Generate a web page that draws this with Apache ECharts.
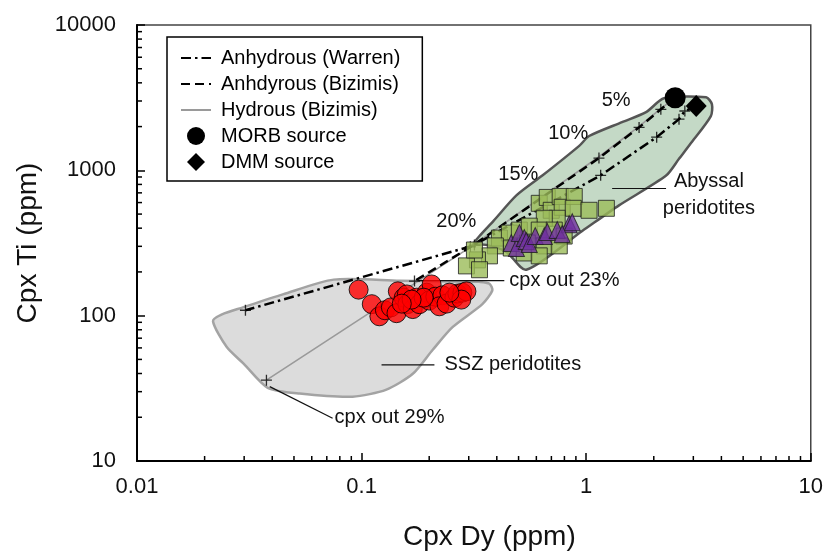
<!DOCTYPE html>
<html><head><meta charset="utf-8">
<script src="https://cdn.jsdelivr.net/npm/echarts@6/dist/echarts.min.js"></script>
<style>html,body{margin:0;padding:0;background:#fff}#c{width:826px;height:556px}</style>
</head><body><div id="c"></div>
<script>
// ---- data (Cpx Dy ppm, Cpx Ti ppm) ----
const xRange = [0.01, 10];
const yRange = [10, 10000];

const warrenLine = [[3.09,2770],[2.75,2560],[2.59,2250],[2.06,1690],[1.16,924],[0.311,302],[0.0304,109]];
const bizimisAnhydrousLine = [[2.49,3160],[2.15,2630],[1.72,1975],[1.14,1215],[0.311,302],[0.172,173]];
const bizimisHydrousLine = [[2.49,3160],[2.15,2660],[1.72,2010],[1.14,1240],[0.311,302],[0.0377,36]];
const meltSteps = [[2.75,2560],[2.59,2250],[2.06,1690],[1.16,924],[0.305,298],[0.0304,109],
                   [2.15,2630],[1.72,1975],[1.14,1215],[0.318,306],[0.172,173],[0.0377,36]];

const morbSource = [[2.49,3160]];
const dmmSource = [[3.09,2770]];

const abyssalField = [[0.315,311],[0.335,353],[0.386,447],[0.489,672],[0.638,920],[0.931,1473],[1.031,1722],
  [1.445,2146],[1.848,2512],[2.22,3130],[3.42,3180],[3.63,2850],[3.59,2360],[2.96,1570],[2.59,1200],
  [2.27,920],[1.40,574],[0.96,382],[0.541,207],[0.441,275],[0.359,307]];
const sszField = [[0.0218,91.5],[0.0239,102],[0.0296,114],[0.0446,140],[0.0751,177],[0.148,174],[0.302,171],
  [0.334,171],[0.371,166],[0.382,149],[0.345,120],[0.254,83.3],[0.207,58.0],[0.169,39.8],[0.129,31.0],
  [0.0912,27.7],[0.053,29.1],[0.0382,31.9],[0.0299,46.6],[0.0251,60.8]];

const abyssalSamples = [[0.618,593],[0.671,651],[0.699,531],[0.766,661],[0.782,557],[0.885,661],[0.876,548],
  [1.03,531],[1.23,548],[0.743,468],[0.651,468],[0.411,342],[0.455,370],[0.504,388],[0.558,413],[0.618,388],
  [0.721,388],[0.798,353],[0.547,316],[0.651,302],[0.759,302],[0.464,292],[0.394,302],[0.530,270],[0.618,258],
  [0.371,258],[0.328,242],[0.293,220],[0.335,207],[0.318,283]];
const purpleSamples = [[0.464,316],[0.489,292],[0.504,370],[0.530,342],[0.541,326],[0.558,311],[0.593,353],
  [0.651,353],[0.671,376],[0.743,388],[0.840,426],[0.867,440],[0.782,364]];
const sszSamples = [[0.097,151],[0.111,120],[0.120,99],[0.127,109],[0.135,114],[0.143,104],[0.145,147],
  [0.154,133],[0.159,140],[0.160,120],[0.169,111],[0.176,133],[0.181,120],[0.195,144],[0.205,164],[0.200,127],
  [0.213,135],[0.229,138],[0.222,116],[0.239,121],[0.259,133],[0.267,142],[0.281,144],[0.293,147],[0.278,129],
  [0.246,144],[0.189,133],[0.167,129],[0.151,121]];

const annotations = [
  {text:'5%', at:[1.36,3030], align:'center'},
  {text:'10%', at:[0.832,1806], align:'center'},
  {text:'15%', at:[0.499,934], align:'center'},
  {text:'20%', at:[0.264,447], align:'center'},
  {text:'cpx out 23%', at:[0.455,174], align:'left'},
  {text:'cpx out 29%', at:[0.0758,19.8], align:'left'},
  {text:'SSZ peridotites', at:[0.234,45.9], align:'left'},
  {text:'Abyssal', at:[3.52,837], align:'center'},
  {text:'peridotites', at:[3.52,548], align:'center'}
];
const leaders = [
  [[0.039,32.5],[0.0743,19.7]],
  [[0.1774,174],[0.432,174]],
  [[0.1227,45.9],[0.211,45.9]],
  [[1.305,750],[2.268,750]]
];

// ---- chart ----
const FONT = '"Liberation Sans", Arial, sans-serif';
const fmt = v => String(Number(v.toPrecision(6)));
const CLEAR = 'rgba(0,0,0,0)';

function polygonSeries(points, fill, stroke) {
  return {
    type:'custom', coordinateSystem:'cartesian2d', silent:true, z:1, clip:false,
    data:[[1,100]],
    renderItem(params, api) {
      return {type:'polygon', shape:{points:points.map(p=>api.coord(p)), smooth:0.25},
        style:{fill:fill, stroke:stroke, lineWidth:2.5}};
    }
  };
}

const minorVals = [];
[0.01,0.1,1].forEach(d=>{for(let k=2;k<=9;k++) minorVals.push(d*k);});
const minorValsY = [];
[10,100,1000].forEach(d=>{for(let k=2;k<=9;k++) minorValsY.push(d*k);});

const chart = echarts.init(document.getElementById('c'), null, {renderer:'canvas'});
chart.setOption({
  animation:false,
  backgroundColor:'#fff',
  grid:{left:137, right:14, top:25, bottom:91, show:true, borderColor:'#444', borderWidth:1.5, backgroundColor:'transparent'},
  legend:{
    orient:'vertical', left:167, top:37, padding:[11,22,9,13], itemGap:6, itemWidth:30, itemHeight:18,
    borderColor:'#000', borderWidth:1.5, backgroundColor:'#fff', symbolKeepAspect:true,
    textStyle:{fontFamily:FONT, fontSize:20, color:'#000', padding:[0,0,0,5]},
    data:['Anhydrous (Warren)','Anhdyrous (Bizimis)','Hydrous (Bizimis)','MORB source',
      {name:'DMM source', icon:'path://M10,0L20,10L10,20L0,10Z'}],
    selectedMode:false
  },
  xAxis:{
    type:'log', logBase:10, min:xRange[0], max:xRange[1],
    name:'Cpx Dy (ppm)', nameLocation:'middle', nameGap:62,
    nameTextStyle:{fontFamily:FONT, fontSize:28, color:'#111', padding:[0,0,0,31]},
    axisLine:{show:true, onZero:false, lineStyle:{color:'#000', width:2}},
    axisTick:{show:true, inside:true, length:8, lineStyle:{color:'#000', width:1.5}},
    axisLabel:{fontFamily:FONT, fontSize:22, color:'#111', margin:15, formatter:fmt},
    splitLine:{show:false}
  },
  yAxis:{
    type:'log', logBase:10, min:yRange[0], max:yRange[1],
    name:'Cpx Ti (ppm)', nameLocation:'middle', nameGap:95,
    nameTextStyle:{fontFamily:FONT, fontSize:28, color:'#111'},
    axisLine:{show:true, onZero:false, lineStyle:{color:'#000', width:2}},
    axisTick:{show:true, inside:true, length:8, lineStyle:{color:'#000', width:1.5}},
    axisLabel:{fontFamily:FONT, fontSize:22, color:'#111', margin:21, formatter:fmt},
    splitLine:{show:false}
  },
  series:[
    polygonSeries(abyssalField, '#c4d9c6', '#555'),
    polygonSeries(sszField, '#dcdcdc', '#a3a3a3'),
    {
      type:'custom', silent:true, z:2, clip:false, data:[[1,100]],
      renderItem(params, api) {
        const children = [];
        minorVals.forEach(v=>{const p=api.coord([v,yRange[0]]); children.push({type:'line', shape:{x1:p[0],y1:p[1],x2:p[0],y2:p[1]-5}, style:{stroke:'#000', lineWidth:1.5}});});
        minorValsY.forEach(v=>{const p=api.coord([xRange[0],v]); children.push({type:'line', shape:{x1:p[0],y1:p[1],x2:p[0]+5,y2:p[1]}, style:{stroke:'#000', lineWidth:1.5}});});
        return {type:'group', children};
      }
    },
    {name:'Hydrous (Bizimis)', type:'line', data:bizimisHydrousLine, symbol:'circle', showSymbol:false, z:2,
      lineStyle:{color:'#9a9a9a', width:1.6}, itemStyle:{color:CLEAR, borderColor:CLEAR, borderWidth:0}},
    {name:'Anhdyrous (Bizimis)', type:'line', data:bizimisAnhydrousLine, symbol:'circle', showSymbol:false, z:3,
      lineStyle:{color:'#000', width:2.5, type:[9,5]}, itemStyle:{color:CLEAR, borderColor:CLEAR, borderWidth:0}},
    {name:'Anhydrous (Warren)', type:'line', data:warrenLine, symbol:'circle', showSymbol:false, z:3,
      lineStyle:{color:'#000', width:2.5, type:[10,4,2.5,4]}, itemStyle:{color:CLEAR, borderColor:CLEAR, borderWidth:0}},
    {name:'steps', type:'scatter', data:meltSteps, z:4, symbol:'path://M0,5L10,5M5,0L5,10', symbolSize:11,
      itemStyle:{color:CLEAR, borderColor:'#000', borderWidth:1.3}},
    {
      type:'custom', silent:true, z:4, clip:false, data:leaders.map(l=>l[0]),
      renderItem(params, api) {
        const l = leaders[params.dataIndex];
        const a = api.coord(l[0]), b = api.coord(l[1]);
        return {type:'line', shape:{x1:a[0],y1:a[1],x2:b[0],y2:b[1]}, style:{stroke:'#111', lineWidth:1.2}};
      }
    },
    {
      type:'custom', silent:true, z:4, clip:false, data:annotations.map(a=>a.at),
      renderItem(params, api) {
        const a = annotations[params.dataIndex];
        const p = api.coord(a.at);
        return {type:'text', x:p[0], y:p[1], style:{text:a.text, font:'20px '+FONT, fill:'#111',
          align:a.align, verticalAlign:'middle', textAlign:a.align, textVerticalAlign:'middle'}};
      }
    },
    {name:'Abyssal samples', type:'scatter', data:abyssalSamples, z:5, symbol:'rect', symbolSize:16,
      itemStyle:{color:'#9bbb59', borderColor:'#1e1e1e', borderWidth:1}},
    {name:'Purple samples', type:'scatter', data:purpleSamples, z:6, symbol:'triangle', symbolSize:[16,17],
      itemStyle:{color:'#7030a0', borderColor:'#1e1e1e', borderWidth:1}},
    {name:'SSZ samples', type:'scatter', data:sszSamples, z:6, symbol:'circle', symbolSize:19,
      itemStyle:{color:'#ff0000', borderColor:'#000', borderWidth:1}},
    {name:'MORB source', type:'scatter', data:morbSource, z:7, symbol:'circle', symbolSize:21, symbolKeepAspect:true,
      itemStyle:{color:'#000', opacity:1}},
    {name:'DMM source', type:'scatter', data:dmmSource, z:7, symbol:'diamond', symbolSize:[21,22], symbolKeepAspect:true,
      itemStyle:{color:'#000', opacity:1}}
  ]
});
</script></body></html>
